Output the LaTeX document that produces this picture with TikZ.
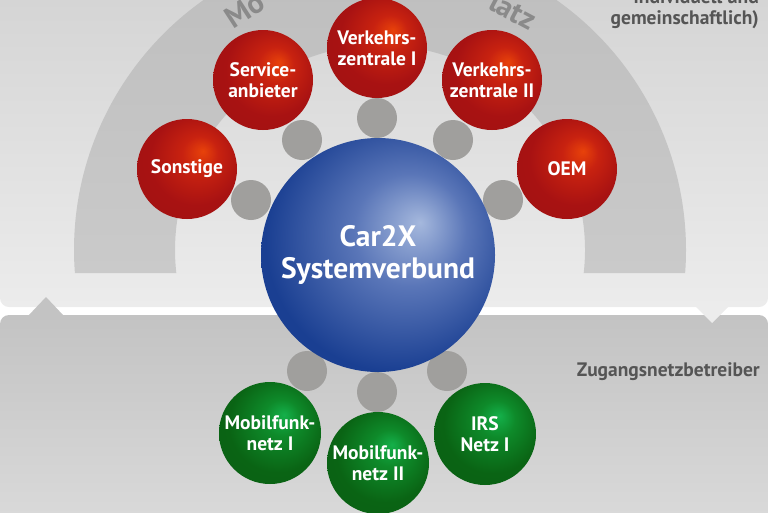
\documentclass[tikz,border=0pt]{standalone}
\usepackage{fontspec}
\setmainfont{PT Sans}
\definecolor{paneltop}{HTML}{D2D2D2}
\definecolor{panelbot}{HTML}{ECECEC}
\definecolor{lowtop}{HTML}{C3C3C3}
\definecolor{lowbot}{HTML}{DEDEDE}
\definecolor{arctop}{HTML}{BDBDBD}
\definecolor{arcbot}{HTML}{CACACA}
\definecolor{jointgray}{HTML}{A09F9D}
\definecolor{labelgray}{HTML}{555555}
\definecolor{arctext}{HTML}{8A8A8A}
\definecolor{redhi}{HTML}{E8420A}
\definecolor{redmid}{HTML}{C82210}
\definecolor{reddark}{HTML}{A81212}
\definecolor{greenhi}{HTML}{14B04A}
\definecolor{greenmid}{HTML}{0E8A2A}
\definecolor{greendark}{HTML}{0A6414}
\definecolor{bluehi}{HTML}{A5B8DD}
\definecolor{bluemid}{HTML}{5A76B8}
\definecolor{bluedark}{HTML}{1A3F92}
\pgfdeclareradialshading{redsphere}{\pgfpoint{8bp}{9bp}}{color(0bp)=(redhi); color(9bp)=(redmid); color(23bp)=(reddark); color(50bp)=(reddark!92!black)}
\pgfdeclareradialshading{greensphere}{\pgfpoint{7bp}{9bp}}{color(0bp)=(greenhi); color(9bp)=(greenmid); color(24bp)=(greendark); color(50bp)=(greendark!92!black)}
\pgfdeclareradialshading{bluesphere}{\pgfpoint{9bp}{7bp}}{color(0bp)=(bluehi); color(12bp)=(bluemid); color(28bp)=(bluedark); color(50bp)=(bluedark)}
\newcommand*{\ballsize }{100pt}
\newcommand*{\jointsize}{40pt}
\newcommand*{\ringr    }{306}
\newcommand*{\ringi    }{205}

\begin{document}
\begin{tikzpicture}[x=1pt, y=-1pt,
    ball/.style={circle, inner sep=0pt, minimum size=\ballsize, text=white, align=center,
                 font=\bfseries\fontsize{19.5}{21}\selectfont},
    redball/.style={ball, shade, shading=redsphere},
    greenball/.style={ball, shade, shading=greensphere, minimum size=102pt},
    joint/.style={circle, fill=jointgray, inner sep=0pt, minimum size=\jointsize},
    ringtext/.style={text=arctext, inner sep=0pt, font=\bfseries\fontsize{30}{30}\selectfont},
    graylabel/.style={text=labelgray, inner sep=0pt, font=\bfseries\fontsize{19.5}{21}\selectfont}]
    \useasboundingbox (0,0) rectangle (768,512);
    \clip (0,0) rectangle (768,512);
    % panels
    \shade [top color=paneltop, bottom color=panelbot, rounded corners=9pt] (0,-40) rectangle (768,307);
    \shade [top color=lowtop, bottom color=lowbot, rounded corners=9pt] (0,315) rectangle (768,560);
    \fill [lowtop] (28,316) -- (46,297) -- (64,316) -- cycle;
    \fill [panelbot] (695,306) -- (712,323) -- (729,306) -- cycle;
    % ring
    \shade [top color=arctop, bottom color=arcbot] (74.9,273) arc [start angle=175.69, end angle=364.31, radius=\ringr]
        -- (583.7,273) arc [start angle=366.44, end angle=173.56, radius=\ringi] -- cycle;
    \node [ringtext, rotate= 33] (ringl) at (245,10) {Mo};
    \node [ringtext, rotate=-28] (ringr) at (513,11) {latz};
    \node [graylabel, anchor=south east, align=right] (role) at (759,29) {individuell und\\gemeinschaftlich)};
    \node [graylabel, anchor=east] (access) at (760,372) {Zugangsnetzbetreiber};
    % joints
    \node [joint] (jsonst)   at (251,200) {};
    \node [joint] (jservice) at (302,140) {};
    \node [joint] (jvzI)     at (377,118) {};
    \node [joint] (jvzII)    at (453,140) {};
    \node [joint] (joem)     at (503,200) {};
    \node [joint] (jmfI)     at (307,371) {};
    \node [joint] (jmfII)    at (377,392) {};
    \node [joint] (jirs)     at (447,371) {};
    % balls
    \node [redball] (sonst)   at (187,169) {Sonstige};
    \node [redball] (service) at (263,80)  {Service-\\anbieter};
    \node [redball] (vzI)     at (377,48)  {Verkehrs-\\zentrale I};
    \node [redball] (vzII)    at (492,80)  {Verkehrs-\\zentrale II};
    \node [redball] (oem)     at (567,169) {OEM};
    \node [ball, shade, shading=bluesphere, minimum size=234pt, font=\bfseries\fontsize{29.5}{32}\selectfont] (car) at (378,255) {Car2X\\Systemverbund};
    \node [greenball] (mfI)  at (270,433) {Mobilfunk-\\netz I};
    \node [greenball] (mfII) at (378,463) {Mobilfunk-\\netz II};
    \node [greenball] (irs)  at (485,434) {IRS\\Netz I};
\end{tikzpicture}
\end{document}
